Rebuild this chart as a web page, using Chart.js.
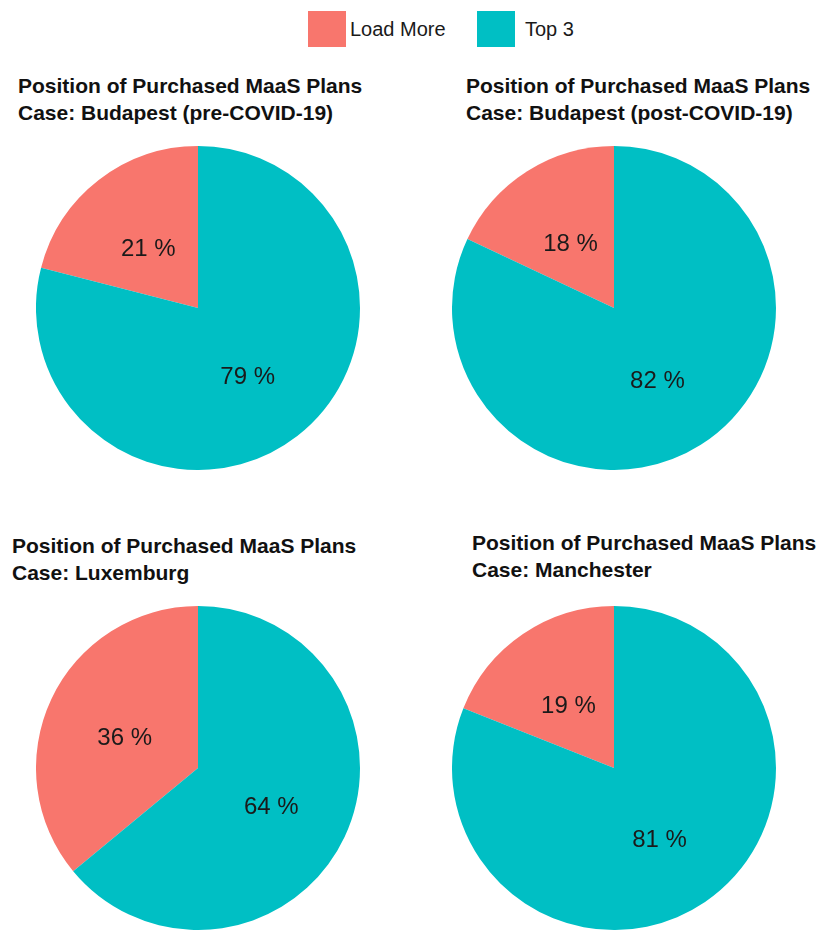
<!DOCTYPE html>
<html>
<head>
<meta charset="utf-8">
<script src="https://cdn.jsdelivr.net/npm/chart.js@4"></script>
<style>
  body { margin: 0; background: #fff; width: 825px; height: 931px; position: relative; overflow: hidden;
         font-family: 'Liberation Sans', Arial, sans-serif; }
  .title { position: absolute; font-weight: bold; font-size: 21px; line-height: 27px; color: #111; white-space: nowrap; }
  .pie { position: absolute; width: 324px; height: 324px; }
  .legend { position: absolute; top: 11px; left: 308px; height: 36px; font-size: 20px; color: #1a1a1a; }
  .key { position: absolute; top: 0; width: 38px; height: 36px; }
  .lab { position: absolute; top: 7px; white-space: nowrap; }
</style>
</head>
<body>
<div class="legend">
  <div class="key" style="left:0;background:#F8766D"></div>
  <div class="lab" style="left:42px">Load More</div>
  <div class="key" style="left:169px;background:#00BFC4"></div>
  <div class="lab" style="left:217px">Top 3</div>
</div>

<div class="title" style="left:18px;top:72px">Position of Purchased MaaS Plans<br>Case: Budapest (pre-COVID-19)</div>
<div class="title" style="left:466px;top:72px">Position of Purchased MaaS Plans<br>Case: Budapest (post-COVID-19)</div>
<div class="title" style="left:12px;top:532px">Position of Purchased MaaS Plans<br>Case: Luxemburg</div>
<div class="title" style="left:472px;top:529px">Position of Purchased MaaS Plans<br>Case: Manchester</div>

<div class="pie" style="left:36px;top:146px"><canvas id="pie1"></canvas></div>
<div class="pie" style="left:452px;top:146px"><canvas id="pie2"></canvas></div>
<div class="pie" style="left:36px;top:606px"><canvas id="pie3"></canvas></div>
<div class="pie" style="left:452px;top:606px"><canvas id="pie4"></canvas></div>

<script>
// Data
const categories = ['Load More', 'Top 3'];
const colors = ['#F8766D', '#00BFC4'];
const budapestPre = [21, 79];
const budapestPost = [18, 82];
const luxemburg = [36, 64];
const manchester = [19, 81];

// Draw "NN %" in the middle of each slice
const sliceLabels = {
    id: 'sliceLabels',
    afterDatasetsDraw(chart) {
        const ctx = chart.ctx;
        const meta = chart.getDatasetMeta(0);
        const values = chart.data.datasets[0].data;
        ctx.save();
        ctx.font = "24px 'Liberation Sans', Arial, sans-serif";
        ctx.fillStyle = '#1a1a1a';
        ctx.textAlign = 'center';
        ctx.textBaseline = 'middle';
        meta.data.forEach(function(arc, i) {
            const pos = arc.tooltipPosition();
            ctx.fillText(values[i] + ' %', pos.x, pos.y + 5);
        });
        ctx.restore();
    }
};

function makePie(id, values) {
    const ctx = document.getElementById(id);
    return new Chart(ctx, {
        type: 'pie',
        data: {
            labels: categories,
            datasets: [{
                data: values,
                backgroundColor: colors,
                borderWidth: 0
            }]
        },
        options: {
            responsive: true,
            maintainAspectRatio: false,
            animation: false,
            // first slice ends at 12 o'clock, going counter-clockwise
            rotation: -values[0] / 100 * 360,
            plugins: {
                legend: { display: false },
                tooltip: { enabled: false }
            }
        },
        plugins: [sliceLabels]
    });
}

makePie('pie1', budapestPre);
makePie('pie2', budapestPost);
makePie('pie3', luxemburg);
makePie('pie4', manchester);
</script>
</body>
</html>
